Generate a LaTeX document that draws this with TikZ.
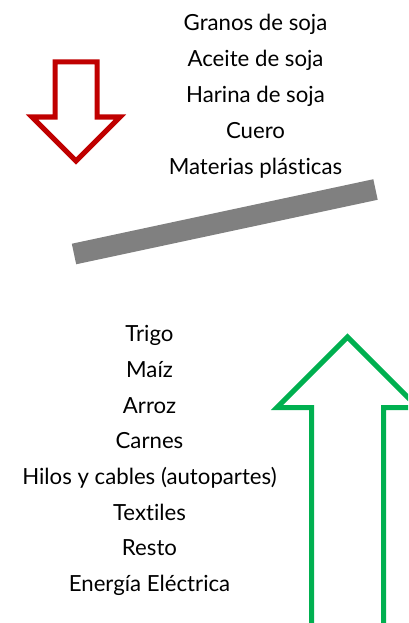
\documentclass[tikz,border=0pt]{standalone}
\usepackage{fontspec}
\setmainfont[Ligatures={CommonOff,ContextualOff}]{Lato}
\definecolor{arrred}{HTML}{C00000}
\definecolor{arrgreen}{HTML}{00B050}
\definecolor{bargray}{HTML}{808080}
\begin{document}
\begin{tikzpicture}[x=1pt,y=-1pt,
  item/.style={anchor=base,inner sep=0pt,font=\fontsize{22.2}{26}\selectfont,text=black},
  outline/.style={line width=5pt,line join=miter,fill=white}]
\useasboundingbox (0,0) rectangle (408,623);
\clip (0,0) rectangle (408,623);
% red down arrow
\draw[outline,draw=arrred] (55,62) -- (97,62) -- (97,117) -- (120,117) -- (76,161) -- (32,117) -- (55,117) -- cycle;
% green up arrow
\draw[outline,draw=arrgreen] (311.5,640) -- (311.5,407.5) -- (277,407.5) -- (347.5,337) -- (418,407.5) -- (383.5,407.5) -- (383.5,640);
% gray bar
\coordinate (barL) at (74,254);
\coordinate (barR) at (375.5,189.5);
\draw[bargray,line width=21pt] (barL) -- (barR);
% top list
\node[item] (t1) at (255.5,30.5) {Granos de soja};
\node[item] (t2) at (255.5,66.5) {Aceite de soja};
\node[item] (t3) at (255.5,102.5) {Harina de soja};
\node[item] (t4) at (255.5,138.3) {Cuero};
\node[item] (t5) at (255.5,174.2) {Materias plásticas};
% bottom list
\node[item] (b1) at (149.5,341.7) {Trigo};
\node[item] (b2) at (149.5,377.4) {Maíz};
\node[item] (b3) at (149.5,413.1) {Arroz};
\node[item] (b4) at (149.5,448.8) {Carnes};
\node[item] (b5) at (149.5,484.5) {Hilos y cables (autopartes)};
\node[item] (b6) at (149.5,520.2) {Textiles};
\node[item] (b7) at (149.5,555.9) {Resto};
\node[item] (b8) at (149.5,591.6) {Energía Eléctrica};
\end{tikzpicture}
\end{document}
